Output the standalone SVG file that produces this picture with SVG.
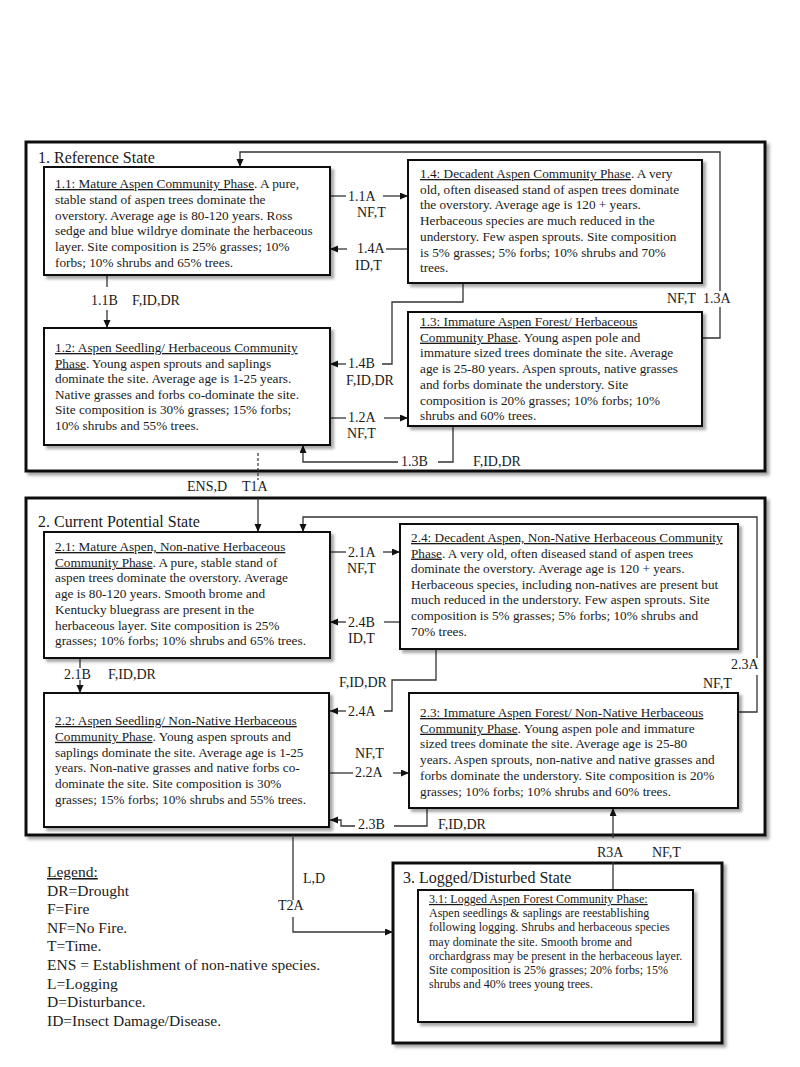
<svg xmlns="http://www.w3.org/2000/svg" width="800" height="1067" viewBox="0 0 800 1067">
<defs>
<style>
.t{font-family:"Liberation Serif","Times New Roman",serif;font-size:13.25px;fill:#1a1a1a}
.lb{font-family:"Liberation Serif","Times New Roman",serif;font-size:14px;fill:#1a1a1a}
.st{font-family:"Liberation Serif","Times New Roman",serif;font-size:16px;fill:#1a1a1a}
.lg{font-family:"Liberation Serif","Times New Roman",serif;font-size:15.5px;fill:#1a1a1a}
.s3{font-family:"Liberation Serif","Times New Roman",serif;font-size:12px;fill:#1a1a1a}
.u{text-decoration:underline}
.outer{fill:#fff;stroke:#111;stroke-width:3}
.box{fill:#fff;stroke:#111;stroke-width:2}
.c{fill:none;stroke:#333;stroke-width:1.3}
.d{fill:none;stroke:#333;stroke-width:1.2;stroke-dasharray:3,2}
</style>
<marker id="ah" markerUnits="userSpaceOnUse" markerWidth="9" markerHeight="8" refX="8" refY="3.5" orient="auto">
<path d="M0,0 L8,3.5 L0,7 z" fill="#111"/>
</marker>
<filter id="sh" x="-5%" y="-5%" width="115%" height="120%">
<feDropShadow dx="3" dy="3" stdDeviation="1.6" flood-color="#000" flood-opacity="0.35"/>
</filter>
</defs>
<rect width="800" height="1067" fill="#fff"/>

<g id="state1">
<rect class="outer" x="26" y="142" width="739" height="329" filter="url(#sh)"/>
<text class="st" x="38" y="163">1. Reference State</text>
</g>
<g id="state2">
<rect class="outer" x="26" y="498" width="739" height="337" filter="url(#sh)"/>
<text class="st" x="38" y="527">2. Current Potential State</text>
</g>
<g id="state3">
<rect class="outer" x="393" y="863" width="329" height="180" filter="url(#sh)"/>
<text class="st" x="403" y="883">3. Logged/Disturbed State</text>
</g>

<g id="connectors">
<!-- 1.1A -->
<line class="c" x1="330" y1="196" x2="346" y2="196"/>
<line class="c" x1="383" y1="196" x2="408" y2="196" marker-end="url(#ah)"/>
<text class="lb" x="348" y="201">1.1A</text>
<text class="lb" x="357" y="217">NF,T</text>
<!-- 1.4A -->
<line class="c" x1="408" y1="249" x2="386" y2="249"/>
<line class="c" x1="347" y1="249" x2="330" y2="249" marker-end="url(#ah)"/>
<text class="lb" x="357" y="253">1.4A</text>
<text class="lb" x="355" y="270">ID,T</text>
<!-- 1.1B -->
<line class="c" x1="107" y1="275" x2="107" y2="287"/>
<line class="c" x1="107" y1="310" x2="107" y2="328" marker-end="url(#ah)"/>
<text class="lb" x="91" y="305">1.1B</text>
<text class="lb" x="132" y="305">F,ID,DR</text>
<!-- 1.4B -->
<polyline class="c" points="463,283 463,302 392,302 392,364 382,364"/>
<line class="c" x1="346" y1="364" x2="330" y2="364" marker-end="url(#ah)"/>
<text class="lb" x="348" y="368">1.4B</text>
<text class="lb" x="346" y="385">F,ID,DR</text>
<!-- 1.2A -->
<line class="c" x1="330" y1="418" x2="346" y2="418"/>
<line class="c" x1="384" y1="418" x2="408" y2="418" marker-end="url(#ah)"/>
<text class="lb" x="348" y="422">1.2A</text>
<text class="lb" x="347" y="438">NF,T</text>
<!-- 1.3B -->
<polyline class="c" points="453,426 453,462 438,462"/>
<polyline class="c" points="398,462 303,462 303,445" marker-end="url(#ah)"/>
<text class="lb" x="401" y="466">1.3B</text>
<text class="lb" x="473" y="466">F,ID,DR</text>
<!-- 1.3A -->
<polyline class="c" points="702,338 720,338 720,307"/>
<polyline class="c" points="720,291 720,152 240,152 240,167" marker-end="url(#ah)"/>
<text class="lb" x="667" y="303">NF,T</text>
<text class="lb" x="703" y="303">1.3A</text>
<!-- T1A -->
<line class="d" x1="258" y1="453" x2="258" y2="480"/>
<line class="c" x1="258" y1="498" x2="258" y2="532" marker-end="url(#ah)"/>
<text class="lb" x="187" y="491">ENS,D</text>
<text class="lb" x="242" y="491">T1A</text>
<!-- 2.1A -->
<line class="c" x1="330" y1="552" x2="346" y2="552"/>
<line class="c" x1="383" y1="552" x2="400" y2="552" marker-end="url(#ah)"/>
<text class="lb" x="348" y="557">2.1A</text>
<text class="lb" x="347" y="573">NF,T</text>
<!-- 2.4B -->
<line class="c" x1="400" y1="622" x2="384" y2="622"/>
<line class="c" x1="346" y1="622" x2="330" y2="622" marker-end="url(#ah)"/>
<text class="lb" x="348" y="627">2.4B</text>
<text class="lb" x="348" y="643">ID,T</text>
<!-- 2.1B -->
<line class="c" x1="80" y1="658" x2="80" y2="668"/>
<line class="c" x1="80" y1="680" x2="80" y2="693" marker-end="url(#ah)"/>
<text class="lb" x="64" y="679">2.1B</text>
<text class="lb" x="108" y="679">F,ID,DR</text>
<!-- 2.4A -->
<polyline class="c" points="436,649 436,680 392,680 392,711 384,711"/>
<line class="c" x1="346" y1="711" x2="330" y2="711" marker-end="url(#ah)"/>
<text class="lb" x="348" y="716">2.4A</text>
<text class="lb" x="339" y="687">F,ID,DR</text>
<!-- 2.2A -->
<line class="c" x1="329" y1="773" x2="353" y2="773"/>
<line class="c" x1="393" y1="773" x2="409" y2="773" marker-end="url(#ah)"/>
<text class="lb" x="355" y="777">2.2A</text>
<text class="lb" x="355" y="758">NF,T</text>
<!-- 2.3B -->
<polyline class="c" points="427,808 427,826 394,826"/>
<polyline class="c" points="355,826 341,826 341,820 330,820" marker-end="url(#ah)"/>
<text class="lb" x="358" y="829">2.3B</text>
<text class="lb" x="438" y="829">F,ID,DR</text>
<!-- 2.3A -->
<polyline class="c" points="738,712 757,712 757,675"/>
<polyline class="c" points="757,658 757,517 303,517 303,532" marker-end="url(#ah)"/>
<text class="lb" x="731" y="669">2.3A</text>
<text class="lb" x="703" y="688">NF,T</text>
<!-- R3A -->
<line class="c" x1="613" y1="890" x2="613" y2="862"/>
<line class="c" x1="613" y1="838" x2="613" y2="808" marker-end="url(#ah)"/>
<text class="lb" x="597" y="857">R3A</text>
<text class="lb" x="652" y="857">NF,T</text>
<!-- T2A -->
<line class="c" x1="293" y1="835" x2="293" y2="900"/>
<polyline class="c" points="293,917 293,932 393,932" marker-end="url(#ah)"/>
<text class="lb" x="303" y="883">L,D</text>
<text class="lb" x="278" y="910">T2A</text>
</g>

<g id="n11">
<rect class="box" x="44" y="167" width="286" height="108" filter="url(#sh)"/>
<text class="t" x="55" y="188"><tspan class="u">1.1: Mature Aspen Community Phase</tspan>. A pure,<tspan x="55" dy="15.8">stable stand of aspen trees dominate the</tspan><tspan x="55" dy="15.8">overstory. Average age is 80-120 years. Ross</tspan><tspan x="55" dy="15.8">sedge and blue wildrye dominate the herbaceous</tspan><tspan x="55" dy="15.8">layer. Site composition is 25% grasses; 10%</tspan><tspan x="55" dy="15.8">forbs; 10% shrubs and 65% trees.</tspan></text>
</g>
<g id="n14">
<rect class="box" x="408" y="160" width="294" height="123" filter="url(#sh)"/>
<text class="t" x="420" y="178"><tspan class="u">1.4: Decadent Aspen Community Phase</tspan>. A very<tspan x="420" dy="15.7">old, often diseased stand of aspen trees dominate</tspan><tspan x="420" dy="15.7">the overstory. Average age is 120 + years.</tspan><tspan x="420" dy="15.7">Herbaceous species are much reduced in the</tspan><tspan x="420" dy="15.7">understory. Few aspen sprouts. Site composition</tspan><tspan x="420" dy="15.7">is 5% grasses; 5% forbs; 10% shrubs and 70%</tspan><tspan x="420" dy="15.7">trees.</tspan></text>
</g>
<g id="n12">
<rect class="box" x="44" y="328" width="286" height="117" filter="url(#sh)"/>
<text class="t" x="55" y="352"><tspan class="u">1.2: Aspen Seedling/ Herbaceous Community</tspan><tspan x="55" dy="15.5" class="u">Phase</tspan><tspan>. Young aspen sprouts and saplings</tspan><tspan x="55" dy="15.5">dominate the site. Average age is 1-25 years.</tspan><tspan x="55" dy="15.5">Native grasses and forbs co-dominate the site.</tspan><tspan x="55" dy="15.5">Site composition is 30% grasses; 15% forbs;</tspan><tspan x="55" dy="15.5">10% shrubs and 55% trees.</tspan></text>
</g>
<g id="n13">
<rect class="box" x="408" y="312" width="294" height="114" filter="url(#sh)"/>
<text class="t" x="420" y="326"><tspan class="u">1.3: Immature Aspen Forest/ Herbaceous</tspan><tspan x="420" dy="15.7" class="u">Community Phase</tspan><tspan>. Young aspen pole and</tspan><tspan x="420" dy="15.7">immature sized trees dominate the site. Average</tspan><tspan x="420" dy="15.7">age is 25-80 years. Aspen sprouts, native grasses</tspan><tspan x="420" dy="15.7">and forbs dominate the understory. Site</tspan><tspan x="420" dy="15.7">composition is 20% grasses; 10% forbs; 10%</tspan><tspan x="420" dy="15.7">shrubs and 60% trees.</tspan></text>
</g>
<g id="n21">
<rect class="box" x="44" y="532" width="286" height="126" filter="url(#sh)"/>
<text class="t" x="55" y="551"><tspan class="u">2.1: Mature Aspen, Non-native Herbaceous</tspan><tspan x="55" dy="15.7" class="u">Community Phase</tspan><tspan>. A pure, stable stand of</tspan><tspan x="55" dy="15.7">aspen trees dominate the overstory. Average</tspan><tspan x="55" dy="15.7">age is 80-120 years. Smooth brome and</tspan><tspan x="55" dy="15.7">Kentucky bluegrass are present in the</tspan><tspan x="55" dy="15.7">herbaceous layer. Site composition is 25%</tspan><tspan x="55" dy="15.7">grasses; 10% forbs; 10% shrubs and 65% trees.</tspan></text>
</g>
<g id="n24">
<rect class="box" x="400" y="524" width="338" height="125" filter="url(#sh)"/>
<text class="t" x="411" y="542"><tspan class="u">2.4: Decadent Aspen, Non-Native Herbaceous Community</tspan><tspan x="411" dy="15.6" class="u">Phase</tspan><tspan>. A very old, often diseased stand of aspen trees</tspan><tspan x="411" dy="15.6">dominate the overstory. Average age is 120 + years.</tspan><tspan x="411" dy="15.6">Herbaceous species, including non-natives are present but</tspan><tspan x="411" dy="15.6">much reduced in the understory. Few aspen sprouts. Site</tspan><tspan x="411" dy="15.6">composition is 5% grasses; 5% forbs; 10% shrubs and</tspan><tspan x="411" dy="15.6">70% trees.</tspan></text>
</g>
<g id="n22">
<rect class="box" x="44" y="693" width="285" height="134" filter="url(#sh)"/>
<text class="t" x="55" y="725"><tspan class="u">2.2: Aspen Seedling/ Non-Native Herbaceous</tspan><tspan x="55" dy="15.8" class="u">Community Phase</tspan><tspan>. Young aspen sprouts and</tspan><tspan x="55" dy="15.8">saplings dominate the site. Average age is 1-25</tspan><tspan x="55" dy="15.8">years. Non-native grasses and native forbs co-</tspan><tspan x="55" dy="15.8">dominate the site. Site composition is 30%</tspan><tspan x="55" dy="15.8">grasses; 15% forbs; 10% shrubs and 55% trees.</tspan></text>
</g>
<g id="n23">
<rect class="box" x="409" y="693" width="329" height="115" filter="url(#sh)"/>
<text class="t" x="420" y="717"><tspan class="u">2.3: Immature Aspen Forest/ Non-Native Herbaceous</tspan><tspan x="420" dy="15.7" class="u">Community Phase</tspan><tspan>. Young aspen pole and immature</tspan><tspan x="420" dy="15.7">sized trees dominate the site. Average age is 25-80</tspan><tspan x="420" dy="15.7">years. Aspen sprouts, non-native and native grasses and</tspan><tspan x="420" dy="15.7">forbs dominate the understory. Site composition is 20%</tspan><tspan x="420" dy="15.7">grasses; 10% forbs; 10% shrubs and 60% trees.</tspan></text>
</g>
<g id="n31">
<rect class="box" x="418" y="890" width="275" height="132" filter="url(#sh)"/>
<text class="s3" x="429" y="903"><tspan class="u">3.1: Logged Aspen Forest Community Phase:</tspan><tspan x="429" dy="14.2">Aspen seedlings &amp; saplings are reestablishing</tspan><tspan x="429" dy="14.2">following logging. Shrubs and herbaceous species</tspan><tspan x="429" dy="14.2">may dominate the site. Smooth brome and</tspan><tspan x="429" dy="14.2">orchardgrass may be present in the herbaceous layer.</tspan><tspan x="429" dy="14.2">Site composition is 25% grasses; 20% forbs; 15%</tspan><tspan x="429" dy="14.2">shrubs and 40% trees young trees.</tspan></text>
</g>

<g id="legend">
<text class="lg" x="47" y="877"><tspan class="u">Legend:</tspan><tspan x="47" dy="18.6">DR=Drought</tspan><tspan x="47" dy="18.6">F=Fire</tspan><tspan x="47" dy="18.6">NF=No Fire.</tspan><tspan x="47" dy="18.6">T=Time.</tspan><tspan x="47" dy="18.6">ENS = Establishment of non-native species.</tspan><tspan x="47" dy="18.6">L=Logging</tspan><tspan x="47" dy="18.6">D=Disturbance.</tspan><tspan x="47" dy="18.6">ID=Insect Damage/Disease.</tspan></text>
</g>
</svg>
